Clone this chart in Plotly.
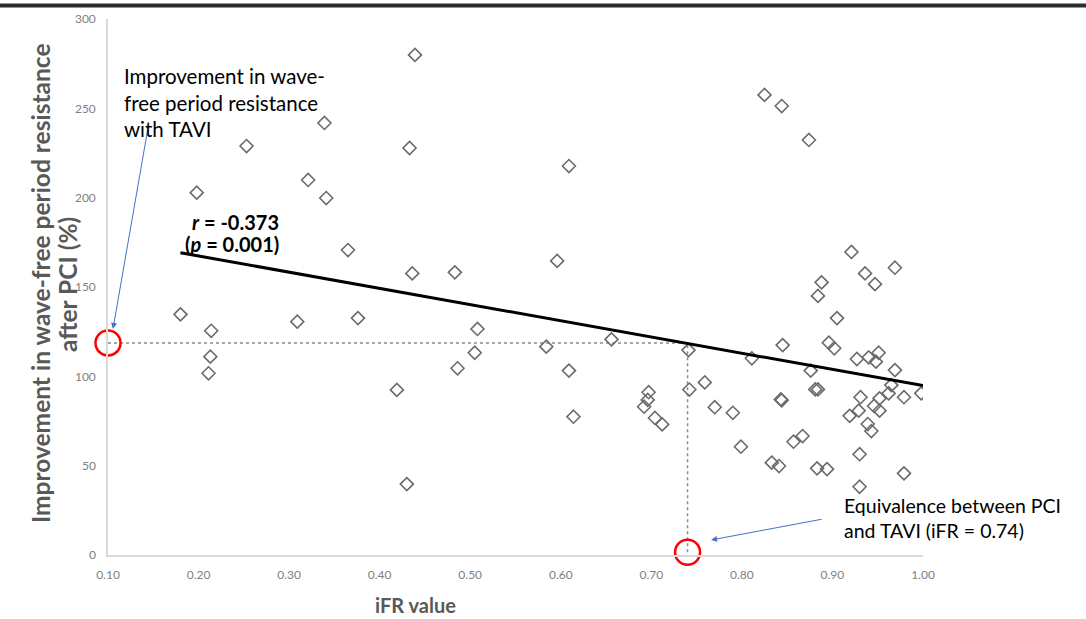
import plotly.graph_objects as go

# iFR value and improvement in wave-free period resistance after PCI (%)
ifr = [0.180, 0.198, 0.214, 0.213, 0.211, 0.253, 0.309, 0.321, 0.339, 0.341,
       0.365, 0.376, 0.419, 0.430, 0.433, 0.439, 0.436, 0.483, 0.486, 0.508,
       0.505, 0.584, 0.596, 0.609, 0.609, 0.614, 0.656, 0.697, 0.696, 0.692,
       0.704, 0.712, 0.741, 0.742, 0.759, 0.770, 0.790, 0.799, 0.811, 0.825,
       0.844, 0.845, 0.843, 0.844, 0.857, 0.867, 0.833, 0.841, 0.874, 0.876,
       0.881, 0.884, 0.888, 0.884, 0.883, 0.894, 0.896, 0.902, 0.905, 0.921,
       0.927, 0.940, 0.951, 0.948, 0.969, 0.965, 0.962, 0.979, 0.998, 0.931,
       0.952, 0.946, 0.952, 0.929, 0.919, 0.939, 0.943, 0.930, 0.979, 0.930,
       0.936, 0.947, 0.969]
improvement = [134.7, 202.8, 125.5, 111.0, 101.7, 228.9, 130.6, 209.9, 241.8, 199.8,
               170.7, 132.6, 92.4, 39.7, 227.8, 279.9, 157.6, 158.2, 104.5, 126.5,
               113.2, 116.6, 164.6, 217.7, 103.2, 77.4, 120.7, 91.1, 86.8, 83.0,
               76.7, 73.1, 114.7, 92.6, 96.6, 82.7, 79.6, 60.6, 110.1, 257.5,
               251.3, 117.5, 87.1, 86.6, 63.4, 66.6, 51.7, 49.8, 232.3, 103.2,
               92.7, 92.7, 152.6, 145.0, 48.5, 48.1, 118.8, 115.7, 132.6, 169.6,
               109.7, 110.6, 113.2, 108.2, 103.5, 95.1, 90.5, 88.3, 90.5, 88.3,
               87.7, 83.4, 80.8, 80.8, 77.9, 73.3, 69.4, 56.4, 45.7, 38.2,
               157.6, 151.6, 160.8]

# Linear regression line endpoints
trend_x = [0.18, 1.00]
trend_y = [169.2, 94.8]

# TAVI improvement level and PCI/TAVI equivalence point
tavi_improvement = 118.7
equivalence_ifr = 0.74

x_ticks = [0.10, 0.20, 0.30, 0.40, 0.50, 0.60, 0.70, 0.80, 0.90, 1.00]
y_ticks = [0, 50, 100, 150, 200, 250, 300]

GRAY_TXT = "#595959"
BLUE = "#4472C4"
FONT = "Lato"

W, H = 1086, 619
L, R, T, B = 108, 163, 19, 64
pw, ph = W - L - R, H - T - B


def px_x(p):
    return (p - L) / pw


def px_y(p):
    return 1 - (p - T) / ph


fig = go.Figure()

# dotted guides
fig.add_trace(go.Scatter(
    x=[0.10, equivalence_ifr, equivalence_ifr],
    y=[tavi_improvement, tavi_improvement, 0],
    mode="lines", line=dict(color="#8c8c8c", width=1.5, dash="dot"),
    hoverinfo="skip", showlegend=False))

fig.add_trace(go.Scatter(
    x=ifr, y=improvement, mode="markers",
    marker=dict(symbol="diamond-open", size=10, color="#6b6b6b",
                line=dict(color="#6b6b6b", width=1.6)),
    showlegend=False))

fig.add_trace(go.Scatter(
    x=trend_x, y=trend_y, mode="lines",
    line=dict(color="black", width=3), showlegend=False))

# red circles marking the two reference points
fig.add_trace(go.Scatter(
    x=[0.10, equivalence_ifr], y=[tavi_improvement, 1.5], mode="markers",
    marker=dict(symbol="circle-open", size=25, color="#ff0000",
                line=dict(color="#ff0000", width=2.5)),
    cliponaxis=False, hoverinfo="skip", showlegend=False))

fig.add_annotation(
    x=0.1055, y=126.5, xref="x", yref="y", ax=35, ay=-201,
    text="", showarrow=True, arrowhead=2, arrowsize=1.2, arrowwidth=1,
    arrowcolor=BLUE)
fig.add_annotation(
    x=0.766, y=8.4, xref="x", yref="y", ax=112, ay=-21,
    text="", showarrow=True, arrowhead=2, arrowsize=1.2, arrowwidth=1,
    arrowcolor=BLUE)

fig.add_annotation(
    x=0.115, y=276, xref="x", yref="y", xanchor="left", yanchor="top",
    align="left", showarrow=False,
    text="Improvement in wave-<br>free period resistance<br>with TAVI",
    font=dict(family=FONT, size=20.5, color="black"))

# correlation statistics
fig.add_annotation(
    x=0.1905, y=186.4, xref="x", yref="y", xanchor="left", yanchor="middle",
    showarrow=False, text="<b><i>r</i> = -0.373</b>",
    font=dict(family=FONT, size=20, color="black"))
fig.add_annotation(
    x=0.183, y=174.1, xref="x", yref="y", xanchor="left", yanchor="middle",
    showarrow=False, text="<b>(<i>p</i> = 0.001)</b>",
    font=dict(family=FONT, size=20, color="black"))

fig.add_annotation(
    x=0.911, y=35, xref="x", yref="y", xanchor="left", yanchor="top",
    align="left", showarrow=False,
    text="Equivalence between PCI<br>and TAVI (iFR = 0.74)",
    font=dict(family=FONT, size=19.5, color="black"))

# axis titles
fig.add_annotation(
    x=px_x(415), y=px_y(605), xref="paper", yref="paper",
    xanchor="center", yanchor="middle", showarrow=False,
    text="<b>iFR value</b>", font=dict(family=FONT, size=20, color=GRAY_TXT))
fig.add_annotation(
    x=px_x(40), y=px_y(284), xref="paper", yref="paper",
    xanchor="center", yanchor="middle", showarrow=False, textangle=-90,
    text="<b>Improvement in wave-free period resistance</b>",
    font=dict(family=FONT, size=24.5, color=GRAY_TXT))
fig.add_annotation(
    x=px_x(68), y=px_y(285), xref="paper", yref="paper",
    xanchor="center", yanchor="middle", showarrow=False, textangle=-90,
    text="<b>after PCI (%)</b>",
    font=dict(family=FONT, size=24.5, color=GRAY_TXT))

# dark rule across the top of the figure
fig.add_shape(type="line", xref="paper", yref="paper",
              x0=px_x(0), x1=px_x(W), y0=px_y(5.5), y1=px_y(5.5),
              line=dict(color="#2b2b2b", width=4))

fig.update_layout(
    width=W, height=H,
    margin=dict(l=L, r=R, t=T, b=B),
    paper_bgcolor="white", plot_bgcolor="white",
    font=dict(family=FONT),
    xaxis=dict(range=[0.10, 1.00], tickvals=x_ticks,
               ticktext=[f"{v:.2f}" for v in x_ticks],
               showgrid=False, zeroline=False, showline=True,
               linecolor="#d9d9d9", linewidth=1.5, ticks="",
               ticklabelstandoff=8,
               tickfont=dict(family=FONT, size=12, color="#7f7f7f")),
    yaxis=dict(range=[0, 300], tickvals=y_ticks,
               showgrid=False, zeroline=False, showline=True,
               linecolor="#d9d9d9", linewidth=1.5, ticks="",
               ticklabelstandoff=8,
               tickfont=dict(family=FONT, size=12, color="#7f7f7f")),
)

fig.write_html("out.html")
